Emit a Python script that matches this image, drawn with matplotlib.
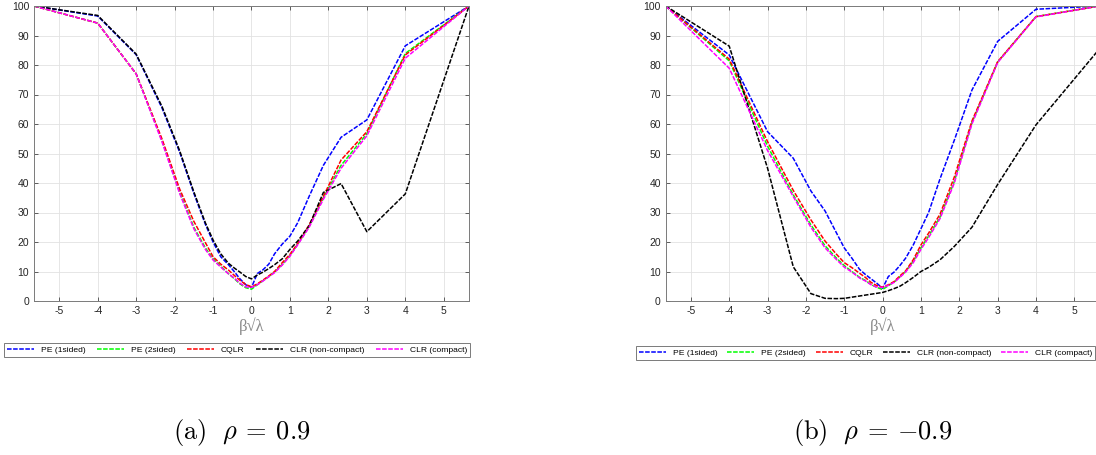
import numpy as np
import matplotlib
matplotlib.use('Agg')
import matplotlib.pyplot as plt

plt.rcParams['font.family'] = ['Liberation Sans', 'DejaVu Sans']
plt.rcParams['mathtext.fontset'] = 'cm'
plt.rcParams['axes.unicode_minus'] = False

# grilla de beta*sqrt(lambda)
x = [-5.657, -4, -3, -2.33, -1.87, -1.5, -1.2, -1.0, -0.8, -0.6, -0.45, -0.3, -0.15, 0,
     0.15, 0.3, 0.45, 0.6, 0.8, 1.0, 1.2, 1.5, 1.87, 2.33, 3, 4, 5.657]

labels = ['PE (1sided)', 'PE (2sided)', 'CQLR', 'CLR (non-compact)', 'CLR (compact)']
colors = ['#0000ff', '#00ff00', '#ff0000', '#000000', '#ff00ff']

# panel (a) rho = 0.9
pe1_a = [100, 96.6, 83.5, 65.5, 50.5, 36.5, 26, 20, 15, 12.3, 10, 7.5, 5.5, 4.6,
         9.3, 10.6, 12.5, 16, 19.3, 22, 26.5, 35.5, 46, 55.5, 61.4, 86.5, 100]
pe2_a = [100, 94.2, 77, 54.5, 37, 25, 18, 14.3, 11.8, 9.3, 7.6, 5.8, 4.5, 4.0,
         5.5, 6.9, 8.3, 9.8, 12.4, 15.4, 19.2, 25.3, 35, 46, 56.7, 83.9, 100]
cqlr_a = [100, 94.2, 77, 55, 38, 27, 19.8, 15, 12.5, 10.5, 8.7, 7.0, 5.6, 4.8,
          5.8, 7.1, 8.5, 10, 13, 15.8, 19.5, 25.8, 35.5, 47.8, 57.4, 83.4, 100]
clrn_a = [100, 96.8, 83.7, 66, 51, 37, 26.5, 20.7, 16, 12.8, 11.2, 9.8, 8.3, 7.5,
          8.8, 9.8, 11, 12.3, 14.3, 17.5, 20.3, 25.5, 36.8, 39.8, 23.5, 36.3, 100]
clrc_a = [100, 94.2, 77, 54, 36.5, 24.5, 17.5, 13.9, 11.5, 9.2, 7.8, 6.0, 4.8, 4.6,
          5.5, 6.8, 8.2, 9.6, 12.2, 15.2, 19, 25, 34.5, 45, 56, 82.3, 100]

# panel (b) rho = -0.9
pe1_b = [100, 83.4, 57.4, 48.4, 37.3, 30.5, 23, 18, 14.5, 10.7, 9, 7.5, 6, 4.3,
         8.3, 9.8, 12, 14.5, 19, 24.5, 30, 41.5, 54.5, 71.5, 88, 98.9, 100]
pe2_b = [100, 81.4, 52.5, 36, 25.8, 18.7, 14.5, 12, 10, 8, 7, 5.6, 4.6, 3.9,
         5.2, 6.4, 8.2, 10, 13.5, 18, 22, 28.5, 40.5, 60.5, 81, 96.4, 100]
cqlr_b = [100, 82, 54, 37.5, 27.5, 20.3, 15.8, 13, 11.3, 9.4, 8, 6.3, 5.2, 4.7,
          5.5, 6.6, 8.5, 10.2, 14, 19, 23, 29.5, 42, 61, 81.1, 96.4, 100]
clrn_b = [100, 86.4, 45, 11.6, 2.5, 0.9, 0.8, 0.9, 1.3, 1.7, 2.0, 2.3, 2.6, 2.9,
          3.5, 4.2, 5.0, 6.2, 8, 10, 11.4, 14, 18.5, 25, 39.5, 59.7, 85.5]
clrc_b = [100, 78.9, 51, 35.4, 25, 18, 14, 11.5, 9.8, 7.8, 6.8, 5.5, 4.7, 4.6,
          5.3, 6.3, 8, 9.8, 13, 17.5, 21.5, 28, 40, 60, 80.8, 96.3, 100]

series_a = [pe1_a, pe2_a, cqlr_a, clrn_a, clrc_a]
series_b = [pe1_b, pe2_b, cqlr_b, clrn_b, clrc_b]

W, H = 1096, 455
fig = plt.figure(figsize=(W / 100, H / 100), dpi=100)

def panel(left_px, right_px, series):
    ax = fig.add_axes([left_px / W, (H - 301) / H, (right_px - left_px) / W, 295 / H])
    for s, c, lab in zip(series, colors, labels):
        ax.plot(x, s, color=c, lw=1.1, dashes=(3.0, 1.0), label=lab)
    ax.set_xlim(-4 * np.sqrt(2), 4 * np.sqrt(2))
    ax.set_ylim(0, 100)
    ax.set_xticks(range(-5, 6))
    ax.set_yticks(range(0, 101, 10))
    ax.grid(True, color='#e2e2e2', lw=0.6)
    ax.set_axisbelow(True)
    ax.tick_params(direction='in', length=3, width=0.5, colors='#262626',
                   labelsize=7.5, pad=3.5, top=True, right=True)
    for sp in ax.spines.values():
        sp.set_color('#7a7a7a')
        sp.set_linewidth(0.7)
    ax.set_xlabel('β√λ', family=['Liberation Serif', 'DejaVu Serif'],
                  fontsize=12, color='#8a8a8a', labelpad=1)
    return ax

ax1 = panel(34, 469, series_a)
ax2 = panel(665.7, 1099.5, series_b)

# leyendas debajo de cada panel
for ax, lx, ty, cs in [(ax1, 4, 343, 1.35), (ax2, 636, 346, 1.15)]:
    h, l = ax.get_legend_handles_labels()
    leg = fig.legend(h, l, loc='upper left', bbox_to_anchor=(lx / W, 1 - ty / H),
                     ncol=5, fontsize=6.1, handlelength=3.2, handletextpad=0.8,
                     columnspacing=cs, borderpad=0.35, borderaxespad=0,
                     fancybox=False, framealpha=1, edgecolor='#7a7a7a')
    leg.get_frame().set_linewidth(0.7)

fig.text(241.5 / W, 1 - 433 / H, r'$\mathrm{(a)}\ \ \rho\:=\:0.9$', fontsize=19,
         ha='center', va='center')
fig.text(873 / W, 1 - 433 / H, r'$\mathrm{(b)}\ \ \rho\:=\:{-}0.9$', fontsize=19,
         ha='center', va='center')

fig.savefig('out.png', dpi=100)
